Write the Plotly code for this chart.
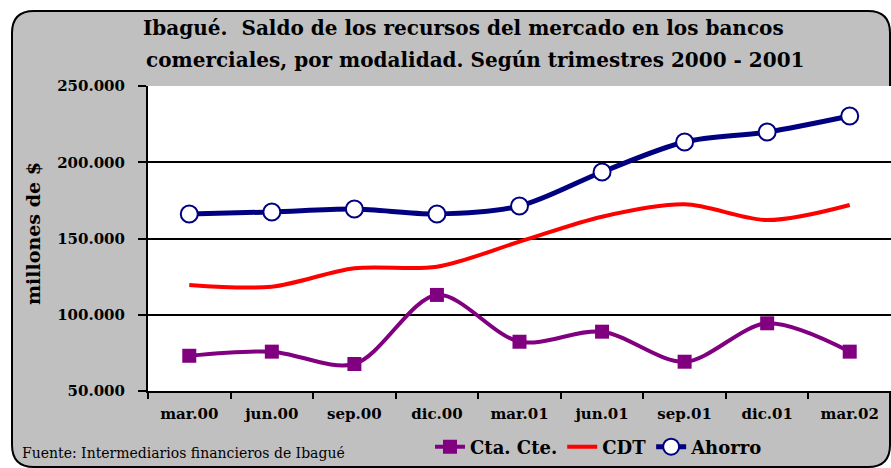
import plotly.graph_objects as go

# trimestres 2000 - 2002 (millones de $)
trimestres = ['mar.00', 'jun.00', 'sep.00', 'dic.00', 'mar.01', 'jun.01', 'sep.01', 'dic.01', 'mar.02']
cta_cte = [73100, 75800, 67700, 113000, 82300, 88900, 69200, 94400, 75800]
cdt = [119500, 118400, 130500, 131500, 147900, 164300, 172400, 162100, 172000]
ahorro = [166100, 167400, 169300, 166100, 171300, 193600, 213300, 219800, 230300]

serif = 'DejaVu Serif'

# plot area in pixels: x 148..891, y 86..391
W, H = 891, 468
L, R, T, B = 148, 0, 86, 77
pw, ph = W - L - R, H - T - B


def px(x):
    return (x - L) / pw


def py(y):
    return (H - B - y) / ph


fig = go.Figure()
fig.add_trace(go.Scatter(
    x=trimestres, y=cta_cte, name='Cta. Cte.', mode='lines+markers',
    line=dict(color='#800080', width=4, shape='spline', smoothing=0.9),
    marker=dict(symbol='square', size=14, color='#800080')))
fig.add_trace(go.Scatter(
    x=trimestres, y=cdt, name='CDT', mode='lines',
    line=dict(color='#FF0000', width=4, shape='spline', smoothing=0.9)))
fig.add_trace(go.Scatter(
    x=trimestres, y=ahorro, name='Ahorro', mode='lines+markers',
    line=dict(color='#000080', width=5, shape='spline', smoothing=0.9),
    marker=dict(symbol='circle', size=17, color='white',
                line=dict(color='#000080', width=2))))

# gray rounded frame behind everything
x0, x1, y0, y1 = px(12), px(890), py(467), py(11)
rx, ry = 22 / pw, 22 / ph
path = (f'M {x0+rx},{y1} L {x1-rx},{y1} Q {x1},{y1} {x1},{y1-ry} '
        f'L {x1},{y0+ry} Q {x1},{y0} {x1-rx},{y0} L {x0+rx},{y0} '
        f'Q {x0},{y0} {x0},{y0+ry} L {x0},{y1-ry} Q {x0},{y1} {x0+rx},{y1} Z')
fig.add_shape(type='path', path=path, xref='paper', yref='paper',
              fillcolor='#C0C0C0', line=dict(color='black', width=2), layer='below')
# white plot area on top of the frame
fig.add_shape(type='rect', x0=0, x1=1, y0=0, y1=1, xref='paper', yref='paper',
              fillcolor='white', line=dict(width=0), layer='below')

fig.add_annotation(text='<b>Ibagué.  Saldo de los recursos del mercado en los bancos</b>',
                   x=px(463), y=py(28), xref='paper', yref='paper', showarrow=False,
                   xanchor='center', yanchor='middle',
                   font=dict(family=serif, size=20, color='black'))
fig.add_annotation(text='<b>comerciales, por modalidad. Según trimestres 2000 - 2001</b>',
                   x=px(475), y=py(60), xref='paper', yref='paper', showarrow=False,
                   xanchor='center', yanchor='middle',
                   font=dict(family=serif, size=20, color='black'))
fig.add_annotation(text='<b>millones de $</b>', textangle=-90,
                   x=px(33), y=py(233), xref='paper', yref='paper', showarrow=False,
                   xanchor='center', yanchor='middle',
                   font=dict(family=serif, size=19, color='black'))
fig.add_annotation(text='Fuente: Intermediarios financieros de Ibagué',
                   x=px(20), y=py(453), xref='paper', yref='paper', showarrow=False,
                   xanchor='left', yanchor='middle',
                   font=dict(family=serif, size=14, color='black'))

fig.update_layout(
    width=W, height=H,
    margin=dict(l=L, r=R, t=T, b=B),
    paper_bgcolor='white', plot_bgcolor='white',
    separators=',.',
    showlegend=True,
    legend=dict(orientation='h', x=px(430), y=py(447), xanchor='left', yanchor='middle',
                bgcolor='rgba(0,0,0,0)',
                font=dict(family=serif, size=18, color='black', weight='bold'),
                itemwidth=30, tracegroupgap=0),
    xaxis=dict(type='category', range=[-0.5, 8.5], showgrid=False,
               showline=True, linecolor='black', linewidth=2,
               ticks='outside', tickson='boundaries', ticklen=6, tickwidth=2, tickcolor='black',
               ticklabelstandoff=8,
               tickfont=dict(family=serif, size=15, color='black', weight='bold')),
    yaxis=dict(range=[50000, 250000], dtick=50000, tickformat=',d',
               showgrid=True, gridcolor='black', gridwidth=2, zeroline=False,
               showline=True, linecolor='black', linewidth=2,
               ticks='outside', ticklen=8, tickwidth=2, tickcolor='black',
               ticklabelstandoff=10,
               tickfont=dict(family=serif, size=15, color='black', weight='bold')),
)

# the page's default body margin would shift the chart by 8px
fig.write_html('out.html', config={'displayModeBar': False},
               post_script="document.body.style.margin='0';")
